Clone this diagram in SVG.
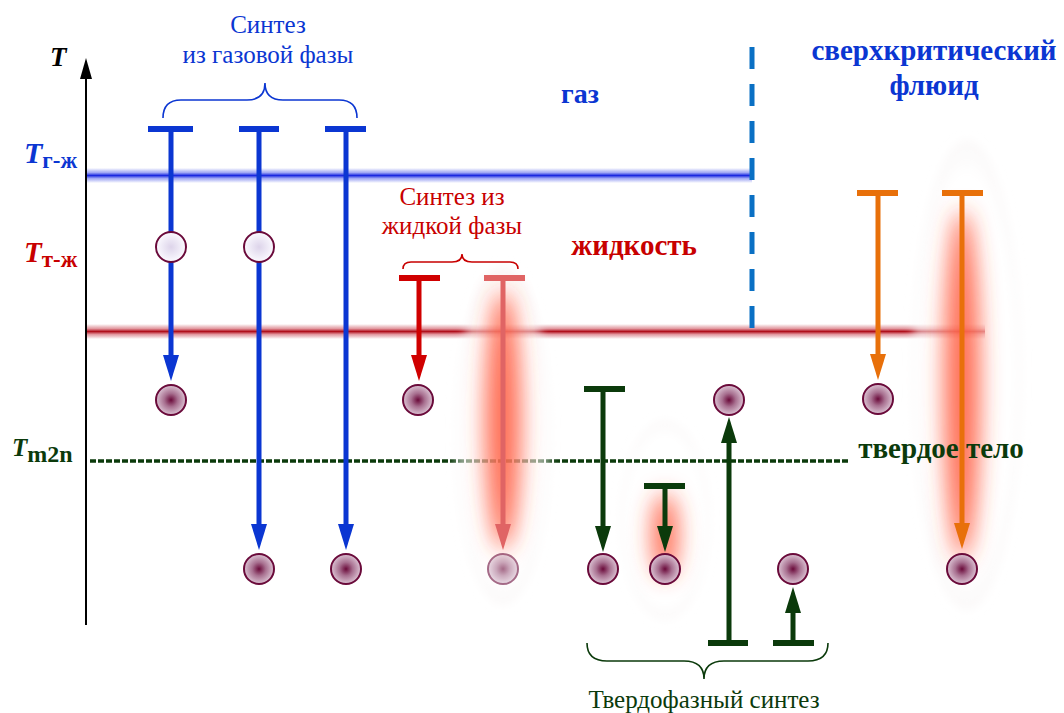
<svg xmlns="http://www.w3.org/2000/svg" width="1064" height="713" viewBox="0 0 1064 713">
  <style>
    .serif { font-family: "Liberation Serif", "Times New Roman", serif; }
    .bold { font-weight: bold; }
    .ital { font-style: italic; }
    .blue { fill: #0b36d2; }
    .red { fill: #c80000; }
    .green { fill: #0b3a0b; }
    .bar { stroke-width: 6; stroke-linecap: butt; }
    .shaft { stroke-width: 5; fill: none; }
    .dot { fill: url(#dark); stroke: #6a0a3a; stroke-width: 2; }
    .ring { fill: url(#light); stroke: #6a0a3a; stroke-width: 2; }
    .brace { fill: none; stroke-width: 1.6; }
  </style>
  <defs>
    <linearGradient id="bandBlue" x1="0" y1="0" x2="0" y2="1">
      <stop offset="0" stop-color="#2030e0" stop-opacity="0"/>
      <stop offset="0.3" stop-color="#3040e8" stop-opacity="0.45"/>
      <stop offset="0.5" stop-color="#1a28e0"/>
      <stop offset="0.7" stop-color="#3040e8" stop-opacity="0.45"/>
      <stop offset="1" stop-color="#2030e0" stop-opacity="0"/>
    </linearGradient>
    <linearGradient id="bandRed" x1="0" y1="0" x2="0" y2="1">
      <stop offset="0" stop-color="#b01020" stop-opacity="0"/>
      <stop offset="0.3" stop-color="#c02030" stop-opacity="0.45"/>
      <stop offset="0.5" stop-color="#b0101c"/>
      <stop offset="0.7" stop-color="#c02030" stop-opacity="0.45"/>
      <stop offset="1" stop-color="#b01020" stop-opacity="0"/>
    </linearGradient>
    <radialGradient id="dark" cx="0.5" cy="0.5" r="0.5">
      <stop offset="0" stop-color="#6a0a3a"/>
      <stop offset="0.45" stop-color="#a87090"/>
      <stop offset="1" stop-color="#dcc4d4"/>
    </radialGradient>
    <radialGradient id="light" cx="0.5" cy="0.5" r="0.5">
      <stop offset="0" stop-color="#ddd4ea"/>
      <stop offset="1" stop-color="#fbfaff"/>
    </radialGradient>
    <radialGradient id="mist" cx="0.5" cy="0.5" r="0.5">
      <stop offset="0" stop-color="#ffffff" stop-opacity="0.6"/>
      <stop offset="0.85" stop-color="#ffffff" stop-opacity="0.55"/>
      <stop offset="1" stop-color="#f6f2f2" stop-opacity="0.5"/>
    </radialGradient>
    <filter id="soft" x="-150%" y="-50%" width="400%" height="200%">
      <feGaussianBlur stdDeviation="11"/>
    </filter>
    <filter id="haze" x="-50%" y="-30%" width="200%" height="160%">
      <feGaussianBlur stdDeviation="5"/>
    </filter>
    <marker id="ahBlue" markerUnits="userSpaceOnUse" markerWidth="26" markerHeight="16" refX="0" refY="8" orient="auto">
      <path d="M0,0 L26,8 L0,16 z" fill="#0b36d2"/>
    </marker>
    <marker id="ahRed" markerUnits="userSpaceOnUse" markerWidth="26" markerHeight="16" refX="0" refY="8" orient="auto">
      <path d="M0,0 L26,8 L0,16 z" fill="#d00000"/>
    </marker>
    <marker id="ahPale" markerUnits="userSpaceOnUse" markerWidth="26" markerHeight="16" refX="0" refY="8" orient="auto">
      <path d="M0,0 L26,8 L0,16 z" fill="#e06464"/>
    </marker>
    <marker id="ahGreen" markerUnits="userSpaceOnUse" markerWidth="26" markerHeight="16" refX="0" refY="8" orient="auto">
      <path d="M0,0 L26,8 L0,16 z" fill="#0b3a0b"/>
    </marker>
    <marker id="ahOrange" markerUnits="userSpaceOnUse" markerWidth="26" markerHeight="16" refX="0" refY="8" orient="auto">
      <path d="M0,0 L26,8 L0,16 z" fill="#e8700a"/>
    </marker>
  </defs>

  <rect width="1064" height="713" fill="#ffffff"/>

  <!-- soft glow behind the solid-state step -->
  <g id="glow-solid">
    <ellipse cx="665" cy="520" rx="45" ry="100" fill="url(#mist)" filter="url(#haze)"/>
    <ellipse cx="665" cy="535" rx="13" ry="42" fill="#ff4a2a" fill-opacity="0.8" filter="url(#soft)"/>
  </g>

  <!-- phase boundaries -->
  <g id="phase-lines">
    <rect x="86" y="168" width="666" height="15" fill="url(#bandBlue)"/>
    <rect x="86" y="324" width="899" height="15" fill="url(#bandRed)"/>
    <line x1="752" y1="47" x2="752" y2="330" stroke="#0a70c4" stroke-width="5" stroke-dasharray="22 15"/>
    <line x1="90" y1="461" x2="848" y2="461" stroke="#0b3a0b" stroke-width="3.5" stroke-dasharray="6 2"/>
  </g>

  <!-- hazes and glows over the boundaries -->
  <g id="glows">
    <ellipse cx="503" cy="435" rx="48" ry="170" fill="url(#mist)" filter="url(#haze)"/>
    <ellipse cx="503" cy="420" rx="18" ry="130" fill="#ff4a2a" fill-opacity="0.8" filter="url(#soft)"/>
    <ellipse cx="967" cy="375" rx="55" ry="235" fill="url(#mist)" filter="url(#haze)"/>
    <ellipse cx="962" cy="385" rx="18" ry="175" fill="#ff4a2a" fill-opacity="0.8" filter="url(#soft)"/>
  </g>

  <!-- temperature axis -->
  <g id="axis">
    <line x1="86" y1="75" x2="86" y2="625" stroke="#000" stroke-width="2"/>
    <path d="M86,58 L92,79 L80,79 z" fill="#000"/>
    <text x="50" y="66" class="serif bold ital" font-size="27" fill="#000">T</text>
    <text x="24" y="163" class="serif bold blue"><tspan class="ital" font-size="30">T</tspan><tspan font-size="23" dy="5">г-ж</tspan></text>
    <text x="24" y="262" class="serif bold red"><tspan class="ital" font-size="29">T</tspan><tspan font-size="23" dy="5">т-ж</tspan></text>
    <text x="12" y="456" class="serif bold green"><tspan class="ital" font-size="25">T</tspan><tspan font-size="24" dy="6">m2n</tspan></text>
  </g>

  <!-- phase region names -->
  <g id="phase-labels" class="serif bold">
    <text x="580" y="103" font-size="28" text-anchor="middle" class="blue">газ</text>
    <text x="634" y="255" font-size="29" text-anchor="middle" class="red">жидкость</text>
    <text x="934" y="60" font-size="29" text-anchor="middle" class="blue">сверхкритический</text>
    <text x="934" y="95" font-size="29" text-anchor="middle" class="blue">флюид</text>
    <text x="941" y="458" font-size="29" text-anchor="middle" class="green">твердое тело</text>
  </g>

  <!-- group titles with braces -->
  <g id="gas-synthesis-title">
    <text x="268" y="33" class="serif blue" font-size="25" text-anchor="middle">Синтез</text>
    <text x="268" y="63" class="serif blue" font-size="25" text-anchor="middle">из газовой фазы</text>
    <path class="brace" stroke="#0b36d2" d="M163,118 Q163,100 181,100 L247,100 Q265,100 265,83 Q265,100 283,100 L339,100 Q357,100 357,118"/>
  </g>
  <g id="liquid-synthesis-title">
    <text x="452" y="205" class="serif red" font-size="25" text-anchor="middle">Синтез из</text>
    <text x="452" y="234" class="serif red" font-size="25" text-anchor="middle">жидкой фазы</text>
    <path class="brace" stroke="#c80000" d="M403,269 Q403,262 411,262 L452,262 Q462,262 462,254 Q462,262 472,262 L510,262 Q518,262 518,269"/>
  </g>
  <g id="solid-synthesis-title">
    <path class="brace" stroke="#0b3a0b" d="M587,643 Q587,661 607,661 L684,661 Q704,661 704,679 Q704,661 724,661 L808,661 Q828,661 828,643"/>
    <text x="704" y="708" class="serif green" font-size="25" text-anchor="middle">Твердофазный синтез</text>
  </g>

  <!-- process arrows -->
  <g id="connectors">
    <g id="gas-1">
      <line class="bar" x1="148" y1="129" x2="193" y2="129" stroke="#0b36d2"/>
      <line class="shaft" x1="171" y1="129" x2="171" y2="355" stroke="#0b36d2" marker-end="url(#ahBlue)"/>
    </g>
    <g id="gas-2">
      <line class="bar" x1="239" y1="129" x2="279" y2="129" stroke="#0b36d2"/>
      <line class="shaft" x1="259" y1="129" x2="259" y2="524" stroke="#0b36d2" marker-end="url(#ahBlue)"/>
    </g>
    <g id="gas-3">
      <line class="bar" x1="325" y1="129" x2="366" y2="129" stroke="#0b36d2"/>
      <line class="shaft" x1="346" y1="129" x2="346" y2="524" stroke="#0b36d2" marker-end="url(#ahBlue)"/>
    </g>
    <g id="liquid-1">
      <line class="bar" x1="399" y1="278" x2="440" y2="278" stroke="#d00000"/>
      <line class="shaft" x1="419" y1="278" x2="419" y2="355" stroke="#d00000" marker-end="url(#ahRed)"/>
    </g>
    <g id="liquid-2">
      <line class="bar" x1="484" y1="278" x2="525" y2="278" stroke="#e06464"/>
      <line class="shaft" x1="503" y1="278" x2="503" y2="524" stroke="#e06464" marker-end="url(#ahPale)"/>
    </g>
    <g id="solid-1">
      <line class="bar" x1="584" y1="389" x2="625" y2="389" stroke="#0b3a0b"/>
      <line class="shaft" x1="603" y1="389" x2="603" y2="526" stroke="#0b3a0b" marker-end="url(#ahGreen)"/>
    </g>
    <g id="solid-2">
      <line class="bar" x1="644" y1="486" x2="685" y2="486" stroke="#0b3a0b"/>
      <line class="shaft" x1="665" y1="486" x2="665" y2="526" stroke="#0b3a0b" marker-end="url(#ahGreen)"/>
    </g>
    <g id="solid-3">
      <line class="bar" x1="708" y1="643" x2="748" y2="643" stroke="#0b3a0b"/>
      <line class="shaft" x1="729" y1="643" x2="729" y2="443" stroke="#0b3a0b" marker-end="url(#ahGreen)"/>
    </g>
    <g id="solid-4">
      <line class="bar" x1="773" y1="643" x2="814" y2="643" stroke="#0b3a0b"/>
      <line class="shaft" x1="793" y1="643" x2="793" y2="613" stroke="#0b3a0b" marker-end="url(#ahGreen)"/>
    </g>
    <g id="fluid-1">
      <line class="bar" x1="857" y1="193" x2="898" y2="193" stroke="#e8700a"/>
      <line class="shaft" x1="878" y1="193" x2="878" y2="354" stroke="#e8700a" marker-end="url(#ahOrange)"/>
    </g>
    <g id="fluid-2">
      <line class="bar" x1="942" y1="193" x2="983" y2="193" stroke="#e8700a"/>
      <line class="shaft" x1="962" y1="193" x2="962" y2="523" stroke="#e8700a" marker-end="url(#ahOrange)"/>
    </g>
  </g>

  <!-- droplets (intermediate states) -->
  <g id="droplet-1"><circle class="ring" cx="171" cy="247" r="15"/></g>
  <g id="droplet-2"><circle class="ring" cx="259" cy="247" r="15"/></g>

  <!-- particles (products) -->
  <g id="particle-1"><circle class="dot" cx="171" cy="400" r="15"/></g>
  <g id="particle-2"><circle class="dot" cx="418" cy="400" r="15"/></g>
  <g id="particle-3"><circle class="dot" cx="729" cy="400" r="15"/></g>
  <g id="particle-4"><circle class="dot" cx="878" cy="399" r="15"/></g>
  <g id="particle-5"><circle class="dot" cx="259" cy="569" r="15"/></g>
  <g id="particle-6"><circle class="dot" cx="346" cy="569" r="15"/></g>
  <g id="particle-7"><circle class="dot" cx="503" cy="569" r="15" opacity="0.6"/></g>
  <g id="particle-8"><circle class="dot" cx="603" cy="569" r="15"/></g>
  <g id="particle-9"><circle class="dot" cx="665" cy="569" r="15"/></g>
  <g id="particle-10"><circle class="dot" cx="793" cy="569" r="15"/></g>
  <g id="particle-11"><circle class="dot" cx="962" cy="569" r="15"/></g>
</svg>
